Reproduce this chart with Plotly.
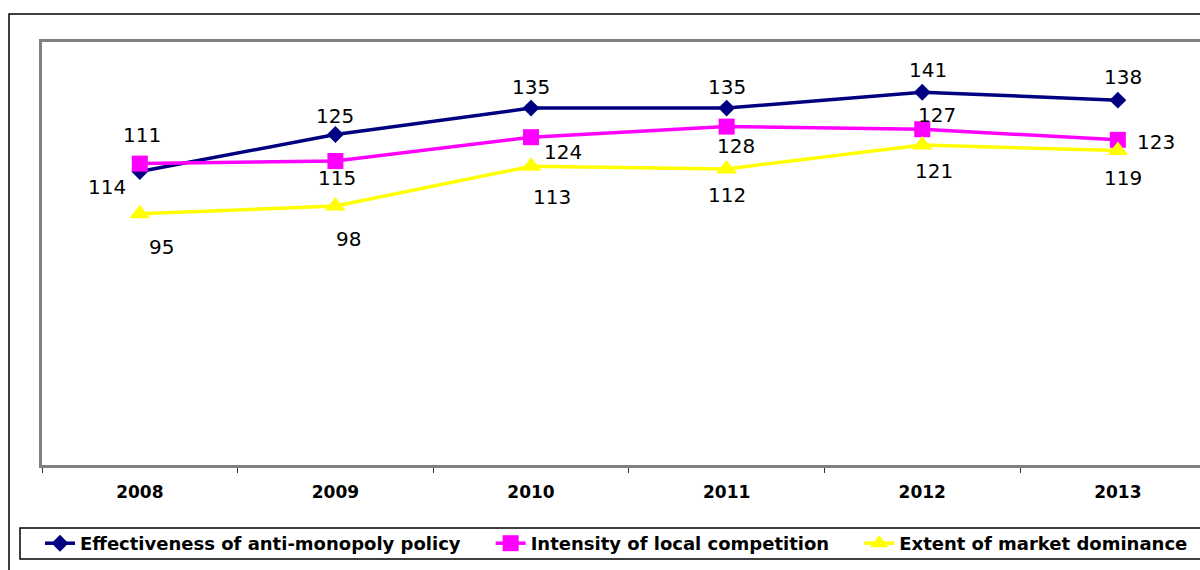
import plotly.graph_objects as go

years = ["2008", "2009", "2010", "2011", "2012", "2013"]
effectiveness = [111, 125, 135, 135, 141, 138]
intensity = [114, 115, 124, 128, 127, 123]
dominance = [95, 98, 113, 112, 121, 119]

series_names = ["Effectiveness of anti-monopoly policy",
                "Intensity of local competition",
                "Extent of market dominance"]
colors = ["#000080", "#FF00FF", "#FFFF00"]
symbols = ["diamond", "square", "triangle-up"]
msizes = [13, 16, 18]

# label offsets (px) relative to each point: (dx, dy) where dy positive = up
eff_off = [(2, 37), (0, 19), (0, 21), (0, 21), (6, 22), (5, 23)]
int_off = [(-33, -23), (2, -17), (32, -15), (9, -19), (15, 14), (38, -2)]
dom_off = [(22, -33), (13, -33), (21, -31), (0, -26), (12, -26), (5, -28)]

fig = go.Figure()
all_vals = [effectiveness, intensity, dominance]
all_offs = [eff_off, int_off, dom_off]
pads = ["\u00a0" * 4, "\u00a0" * 4, ""]
for name, vals, col, sym, ms, pad in zip(series_names, all_vals, colors, symbols, msizes, pads):
    fig.add_trace(go.Scatter(
        x=years, y=vals, mode="lines+markers", name=name + pad,
        line=dict(color=col, width=3.5),
        marker=dict(symbol=sym, size=ms, color=col, line=dict(width=0)),
        cliponaxis=False,
    ))

for vals, offs in zip(all_vals, all_offs):
    for i, (v, (dx, dy)) in enumerate(zip(vals, offs)):
        fig.add_annotation(x=i, y=v, xref="x", yref="y", text=str(v),
                           showarrow=False, xshift=dx, yshift=dy,
                           font=dict(family="DejaVu Sans", size=20, color="black"))

L, T, B, R = 42, 42, 105, 0
W, H = 1200, 570
pw, ph = W - L - R, H - T - B

def px2x(p):
    return (p - L) / pw

def px2y(p):
    return (H - B - p) / ph

# outer frame
fig.add_shape(type="rect", xref="paper", yref="paper",
              x0=px2x(9), x1=px2x(1260), y0=px2y(620), y1=px2y(14),
              line=dict(color="black", width=1.5))
# legend frame
fig.add_shape(type="rect", xref="paper", yref="paper",
              x0=px2x(20), x1=px2x(1260), y0=px2y(559), y1=px2y(528),
              line=dict(color="black", width=1.5))

fig.update_layout(
    width=W, height=H,
    margin=dict(l=L, r=R, t=T, b=B, autoexpand=False),
    paper_bgcolor="white", plot_bgcolor="white",
    showlegend=True,
    legend=dict(orientation="h", x=px2x(40), xanchor="left",
                y=px2y(525), yanchor="top",
                bgcolor="rgba(0,0,0,0)", borderwidth=0,
                font=dict(family="DejaVu Sans", size=18, color="black", weight="bold")),
    xaxis=dict(type="category", range=[-0.5, 5.42],
               showline=True, linecolor="#808080", linewidth=3, mirror=True,
               ticks="outside", tickson="boundaries", ticklen=5, tickwidth=1,
               tickcolor="#333333", showgrid=False, zeroline=False,
               ticklabelstandoff=10,
               tickfont=dict(family="DejaVu Sans", size=17, color="black", weight="bold")),
    yaxis=dict(range=[0, 160], showline=True, linecolor="#808080", linewidth=3,
               mirror=False, showticklabels=False, ticks="", showgrid=False,
               zeroline=False),
)

fig.write_html("out.html", config={"displayModeBar": False},
               post_script="document.body.style.margin='0';")
